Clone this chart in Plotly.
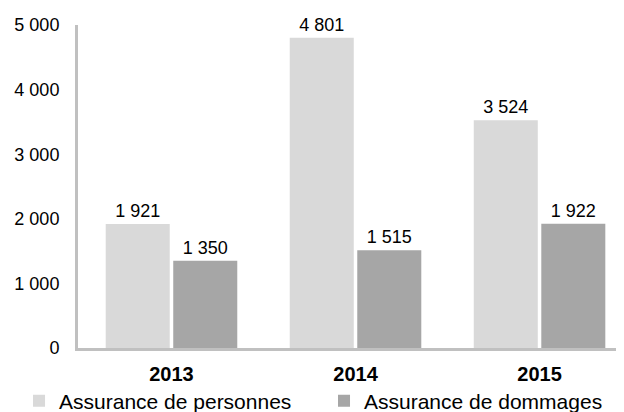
import plotly.graph_objects as go

years = ["2013", "2014", "2015"]
personnes = [1921, 4801, 3524]
dommages = [1350, 1515, 1922]
series_names = ["Assurance de personnes", "Assurance de dommages"]
y_ticks = [0, 1000, 2000, 3000, 4000, 5000]

FONT = "Liberation Sans, Arial, sans-serif"

fig = go.Figure()
fig.add_trace(go.Bar(
    x=years, y=personnes, name=series_names[0], legend="legend",
    marker=dict(color="#d9d9d9", line=dict(width=0)),
    texttemplate="%{y:,}", textposition="outside", cliponaxis=False,
    textfont=dict(family=FONT, size=18, color="#000000"),
))
fig.add_trace(go.Bar(
    x=years, y=dommages, name=series_names[1], legend="legend2",
    marker=dict(color="#a6a6a6", line=dict(width=0)),
    texttemplate="%{y:,}", textposition="outside", cliponaxis=False,
    textfont=dict(family=FONT, size=18, color="#000000"),
))

legend_common = dict(
    orientation="h", xref="container", yref="container",
    xanchor="left", yanchor="middle",
    font=dict(family=FONT, size=21, color="#000000"),
    bgcolor="rgba(0,0,0,0)", itemclick=False,
)

fig.update_layout(
    width=616, height=404,
    margin=dict(l=70, r=0, t=17, b=64, autoexpand=False),
    paper_bgcolor="white", plot_bgcolor="white",
    separators=", ",
    barmode="group", bargap=0.266, bargroupgap=0.052,
    font=dict(family=FONT, size=18, color="#000000"),
    showlegend=True,
    legend=dict(x=0.0179, y=0.027, **legend_common),
    legend2=dict(x=0.513, y=0.027, **legend_common),
)
fig.update_xaxes(
    type="category", range=[-0.508, 2.459],
    showline=True, linecolor="#c0c0c0", linewidth=3,
    showgrid=False, ticks="", zeroline=False, automargin=False,
    tickfont=dict(family=FONT, size=20, color="#000000", weight="bold"),
    ticklabelstandoff=6,
)
fig.update_yaxes(
    range=[0, 5000], tickvals=y_ticks, tickformat=",d",
    showline=True, linecolor="#c0c0c0", linewidth=3,
    showgrid=False, ticks="", zeroline=False, automargin=False,
    tickfont=dict(family=FONT, size=18, color="#000000"),
    ticklabelstandoff=12,
)

fig.write_html("out.html")
